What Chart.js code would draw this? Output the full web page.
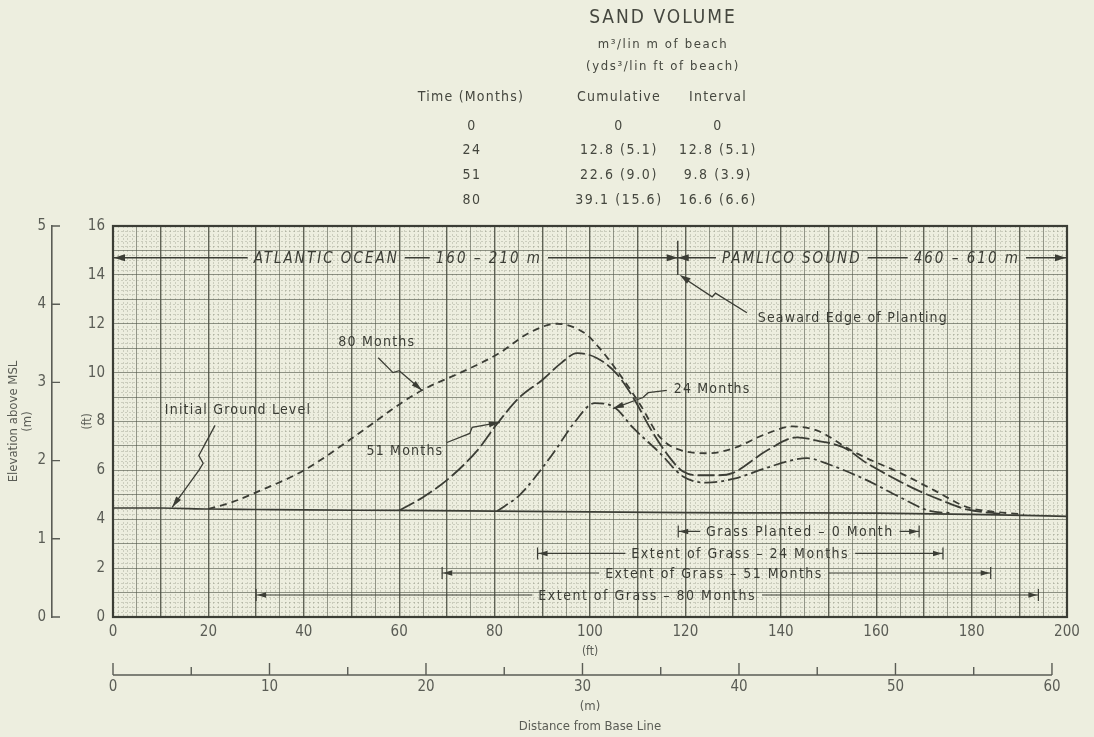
<!DOCTYPE html>
<html>
<head>
<meta charset="utf-8">
<title>Sand volume - dune profiles</title>
<script src="https://cdn.jsdelivr.net/npm/chart.js@4.4.1/dist/chart.umd.min.js"></script>
<style>
  html, body { margin: 0; padding: 0; background: #edeedf; }
  #wrap { position: relative; width: 1094px; height: 737px; }
</style>
</head>
<body>
<div id="wrap"><canvas id="profile"></canvas></div>
<script>
// distance from base line (ft) and elevation above MSL (ft)
const groundX = [0, 10, 20, 30, 40, 60, 80, 100, 120, 140, 160, 180, 200];
const groundY = [4.46, 4.46, 4.42, 4.4, 4.38, 4.36, 4.33, 4.3, 4.27, 4.26, 4.25, 4.2, 4.12];

const m24X = [80.5, 85.3, 90, 93, 96.5, 101, 105, 109, 114.7, 119.5, 124.5, 130, 137, 142, 145.5, 150, 158, 165, 171, 176];
const m24Y = [4.33, 5.0, 6.1, 6.9, 7.9, 8.75, 8.6, 7.75, 6.7, 5.75, 5.5, 5.65, 6.1, 6.4, 6.5, 6.25, 5.6, 4.9, 4.35, 4.25];

const m51X = [60, 65, 70.6, 76.3, 80.5, 85.3, 90, 94, 97.3, 101.4, 105.6, 109, 113, 116.8, 119.5, 123, 127, 130, 137, 143.4, 148, 153, 158, 163, 168.5, 174, 179, 186];
const m51Y = [4.36, 4.9, 5.7, 6.8, 7.9, 9.0, 9.7, 10.4, 10.8, 10.6, 9.95, 9.0, 7.6, 6.5, 5.95, 5.8, 5.8, 5.9, 6.8, 7.35, 7.2, 6.95, 6.3, 5.75, 5.2, 4.75, 4.4, 4.22];

const m80X = [20, 25, 30, 40, 50, 55, 60, 65, 74, 81, 87, 93, 99, 102, 105.6, 110.5, 114.7, 119.5, 125, 130, 137, 142.5, 148, 154, 158, 165, 172, 179, 185, 191];
const m80Y = [4.42, 4.7, 5.1, 6.0, 7.3, 8.0, 8.7, 9.3, 10.1, 10.8, 11.6, 12.0, 11.6, 11.0, 10.1, 8.7, 7.35, 6.8, 6.7, 6.9, 7.5, 7.8, 7.6, 6.9, 6.5, 5.9, 5.2, 4.5, 4.3, 4.2];

// extent of grass (ft from base line)
const grassLabels = ['Grass Planted \u2013 0 Month', 'Extent of Grass \u2013 24 Months', 'Extent of Grass \u2013 51 Months', 'Extent of Grass \u2013 80 Months'];
const grassFrom = [118.5, 89, 69, 30];
const grassTo = [169, 174, 184, 194];
const seawardEdge = 118.4;

// sand volume table
const tableMonths = ['0', '24', '51', '80'];
const tableCumulative = ['0', '12.8 (5.1)', '22.6 (9.0)', '39.1 (15.6)'];
const tableInterval = ['0', '12.8 (5.1)', '9.8 (3.9)', '16.6 (6.6)'];

const FT_PER_M = 3.2808;
const FONT = '"DejaVu Sans Condensed", "Liberation Sans Narrow", "DejaVu Sans", sans-serif';
const PAPER = '#edeedf';
const INK = '#3b3d35';
const GREY = '#5a5c55';

function pts(xs, ys) {
  return xs.map((v, i) => ({ x: v, y: ys[i] }));
}

function arrowHead(ctx, fx, fy, tx, ty, len, half) {
  const a = Math.atan2(ty - fy, tx - fx);
  ctx.beginPath();
  ctx.moveTo(tx, ty);
  ctx.lineTo(tx - len * Math.cos(a) + half * Math.sin(a), ty - len * Math.sin(a) - half * Math.cos(a));
  ctx.lineTo(tx - len * Math.cos(a) - half * Math.sin(a), ty - len * Math.sin(a) + half * Math.cos(a));
  ctx.closePath();
  ctx.fill();
}

// a horizontal bar broken by its labels
function labeledBar(ctx, yPx, x1, x2, labels) {
  let cur = x1;
  ctx.beginPath();
  labels.forEach(l => {
    const w = ctx.measureText(l.s).width;
    ctx.moveTo(cur, yPx);
    ctx.lineTo(l.cx - w / 2 - 6, yPx);
    cur = l.cx + w / 2 + 6;
  });
  ctx.moveTo(cur, yPx);
  ctx.lineTo(x2, yPx);
  ctx.stroke();
  labels.forEach(l => ctx.fillText(l.s, l.cx, yPx + 1));
}

const paper = {
  id: 'paper',
  beforeDraw(chart) {
    const { ctx, chartArea: a, scales: { x, y } } = chart;
    ctx.save();
    ctx.fillStyle = PAPER;
    ctx.fillRect(0, 0, chart.width, chart.height);
    ctx.strokeStyle = 'rgba(95,100,85,0.24)';
    ctx.lineWidth = 1;
    ctx.setLineDash([2, 2]);
    ctx.beginPath();
    for (let v = 1; v < 200; v++) {
      if (v % 5 === 0) continue;
      const p = Math.round(x.getPixelForValue(v)) + 0.5;
      ctx.moveTo(p, a.top);
      ctx.lineTo(p, a.bottom);
    }
    for (let i = 1; i < 80; i++) {
      if (i % 5 === 0) continue;
      const p = Math.round(y.getPixelForValue(i * 0.2)) + 0.5;
      ctx.moveTo(a.left, p);
      ctx.lineTo(a.right, p);
    }
    ctx.stroke();
    ctx.restore();
  }
};

const notes = {
  id: 'notes',
  afterDraw(chart) {
    const { ctx, chartArea: a, scales: { x, y, xm, ym } } = chart;
    const px = v => x.getPixelForValue(v);
    const py = v => y.getPixelForValue(v);
    ctx.save();

    // plot frame
    ctx.strokeStyle = INK;
    ctx.lineWidth = 2.2;
    ctx.strokeRect(a.left, a.top, a.right - a.left, a.bottom - a.top);

    // metre elevation axis: ticks point inwards
    ctx.lineWidth = 1.4;
    ctx.strokeStyle = GREY;
    ctx.beginPath();
    for (let v = 0; v <= 5; v++) {
      const p = ym.getPixelForValue(v);
      ctx.moveTo(ym.right, p);
      ctx.lineTo(ym.right + 8, p);
    }
    ctx.stroke();

    // metre distance axis
    const lineY = xm.top + 13;
    ctx.beginPath();
    ctx.moveTo(xm.getPixelForValue(0), lineY);
    ctx.lineTo(xm.getPixelForValue(60), lineY);
    for (let v = 0; v <= 60; v += 5) {
      const p = xm.getPixelForValue(v);
      ctx.moveTo(p, lineY);
      ctx.lineTo(p, lineY - (v % 10 === 0 ? 12 : 8));
    }
    ctx.stroke();

    // banner: Atlantic Ocean / Pamlico Sound
    ctx.fillStyle = INK;
    ctx.strokeStyle = INK;
    ctx.lineWidth = 1.5;
    ctx.font = `italic 15px ${FONT}`;
    ctx.letterSpacing = '2px';
    ctx.textAlign = 'center';
    ctx.textBaseline = 'middle';
    const by = py(14.7);
    labeledBar(ctx, by, px(0), px(seawardEdge), [{ s: 'ATLANTIC OCEAN', cx: px(44.7) }, { s: '160 \u2013 210 m', cx: px(78.8) }]);
    labeledBar(ctx, by, px(seawardEdge), px(200), [{ s: 'PAMLICO SOUND', cx: px(142.3) }, { s: '460 \u2013 610 m', cx: px(179) }]);
    arrowHead(ctx, px(6), by, px(0) + 1, by, 11, 3.5);
    arrowHead(ctx, px(110), by, px(seawardEdge), by, 11, 3.5);
    arrowHead(ctx, px(126), by, px(seawardEdge), by, 11, 3.5);
    arrowHead(ctx, px(190), by, px(200) - 1, by, 11, 3.5);

    // seaward edge of planting marker
    ctx.lineWidth = 1.4;
    ctx.beginPath();
    ctx.moveTo(px(seawardEdge), py(15.4));
    ctx.lineTo(px(seawardEdge), py(14.0));
    ctx.moveTo(px(119.8), py(13.85));
    ctx.lineTo(px(125.6), py(13.1));
    ctx.lineTo(px(126.3), py(13.25));
    ctx.lineTo(px(132.9), py(12.45));
    ctx.stroke();
    arrowHead(ctx, px(123), py(13.45), px(seawardEdge + 0.4), py(14.0), 11, 3.2);

    // grass extents
    ctx.font = `14px ${FONT}`;
    ctx.letterSpacing = '1.5px';
    const levels = [3.5, 2.6, 1.8, 0.9];
    const labelCx = [144, 131.5, 126, 112];
    ctx.lineWidth = 1.2;
    grassLabels.forEach((s, i) => {
      const yy = py(levels[i]);
      const x1 = px(grassFrom[i]), x2 = px(grassTo[i]);
      labeledBar(ctx, yy, x1, x2, [{ s, cx: px(labelCx[i]) }]);
      ctx.beginPath();
      ctx.moveTo(x1, yy - 6); ctx.lineTo(x1, yy + 6);
      ctx.moveTo(x2, yy - 6); ctx.lineTo(x2, yy + 6);
      ctx.stroke();
      arrowHead(ctx, x1 + 12, yy, x1 + 1, yy, 9, 2.8);
      arrowHead(ctx, x2 - 12, yy, x2 - 1, yy, 9, 2.8);
    });

    // curve labels with leaders
    ctx.letterSpacing = '1.2px';
    ctx.font = `14px ${FONT}`;
    const labels = [
      { s: 'Initial Ground Level', at: [26.2, 8.45], path: [[21.4, 7.84], [18.0, 6.61], [18.9, 6.29], [18.0, 6.0], [12.4, 4.49]] },
      { s: '80 Months', at: [55.3, 11.22], path: [[55.6, 10.61], [58.7, 10.0], [60.0, 10.08], [64.8, 9.27]] },
      { s: '51 Months', at: [61.2, 6.78], path: [[70.0, 7.14], [74.8, 7.51], [75.3, 7.76], [81.1, 7.96]] },
      { s: '24 Months', at: [125.6, 9.31], path: [[116.1, 9.27], [112.2, 9.18], [111.1, 8.98], [104.8, 8.53]] },
      { s: 'Seaward Edge of Planting', at: [155.1, 12.24], path: null }
    ];
    ctx.lineWidth = 1.3;
    labels.forEach(l => {
      ctx.fillText(l.s, px(l.at[0]), py(l.at[1]));
      if (!l.path) return;
      ctx.beginPath();
      l.path.forEach((p, i) => (i ? ctx.lineTo(px(p[0]), py(p[1])) : ctx.moveTo(px(p[0]), py(p[1]))));
      ctx.stroke();
      const n = l.path.length;
      const f = l.path[n - 2], t = l.path[n - 1];
      arrowHead(ctx, px(f[0]), py(f[1]), px(t[0]), py(t[1]), 11, 3);
    });

    // sand volume table
    ctx.fillStyle = '#45473f';
    ctx.letterSpacing = '2px';
    ctx.font = `500 19px ${FONT}`;
    ctx.fillText('SAND VOLUME', 663, 18);
    ctx.letterSpacing = '1.6px';
    ctx.font = `13px ${FONT}`;
    ctx.fillText('m\u00b3/lin m of beach', 663, 45);
    ctx.fillText('(yds\u00b3/lin ft of beach)', 663, 67);
    ctx.letterSpacing = '1.2px';
    ctx.font = `14px ${FONT}`;
    ctx.fillText('Time (Months)', 471, 97);
    ctx.fillText('Cumulative', 619, 97);
    ctx.fillText('Interval', 718, 97);
    ctx.letterSpacing = '1.6px';
    tableMonths.forEach((m, i) => {
      const ty = 126 + i * 24.7;
      ctx.fillText(m, 472, ty);
      ctx.fillText(tableCumulative[i], 619, ty);
      ctx.fillText(tableInterval[i], 718, ty);
    });
    ctx.restore();
  }
};

const lineStyle = {
  showLine: true,
  pointRadius: 0,
  borderColor: INK,
  borderWidth: 1.8,
  fill: false,
  cubicInterpolationMode: 'monotone'
};

new Chart(document.getElementById('profile'), {
  type: 'scatter',
  data: {
    datasets: [
      { ...lineStyle, label: 'Initial Ground Level', data: pts(groundX, groundY), borderWidth: 1.7 },
      { ...lineStyle, label: '24 Months', data: pts(m24X, m24Y), borderDash: [13, 4, 3, 4] },
      { ...lineStyle, label: '51 Months', data: pts(m51X, m51Y), borderDash: [17, 4] },
      { ...lineStyle, label: '80 Months', data: pts(m80X, m80Y), borderDash: [7, 5] }
    ]
  },
  options: {
    responsive: true,
    maintainAspectRatio: false,
    animation: false,
    layout: { padding: { top: 226, right: 27, left: 0, bottom: 0 } },
    plugins: { legend: { display: false }, tooltip: { enabled: false } },
    scales: {
      x: {
        type: 'linear', position: 'bottom', weight: 0, min: 0, max: 200,
        afterFit: s => { s.height = 45; },
        border: { display: false },
        grid: {
          drawTicks: false,
          color: c => (c.tick && c.tick.value % 10 === 0 ? 'rgba(70,74,62,0.85)' : 'rgba(85,90,76,0.6)'),
          lineWidth: c => (c.tick && c.tick.value % 10 === 0 ? 1.4 : 1)
        },
        ticks: {
          stepSize: 5, autoSkip: false, maxRotation: 0, padding: 6, color: GREY,
          font: { family: FONT, size: 15 },
          callback: v => (v % 20 === 0 ? String(v) : '')
        },
        title: { display: true, text: '(ft)', color: GREY, font: { family: FONT, size: 12, lineHeight: 1.2 }, padding: { top: 0, bottom: 3 } }
      },
      xm: {
        type: 'linear', position: 'bottom', weight: 1, min: 0, max: 200 / FT_PER_M,
        afterFit: s => { s.height = 75; },
        border: { display: false },
        grid: { display: false, drawTicks: false },
        ticks: {
          stepSize: 10, includeBounds: false, autoSkip: false, maxRotation: 0, padding: 16, color: GREY,
          font: { family: FONT, size: 15 },
          callback: v => (v % 10 === 0 ? String(v) : '')
        },
        title: { display: true, text: ['(m)', 'Distance from Base Line'], color: GREY, font: { family: FONT, size: 13, lineHeight: 1.5 }, padding: { top: 0, bottom: 1 } }
      },
      y: {
        type: 'linear', position: 'left', weight: 0, min: 0, max: 16,
        afterFit: s => { s.width = 61; },
        border: { display: false },
        grid: { drawTicks: false, color: 'rgba(80,85,72,0.62)', lineWidth: 1 },
        ticks: {
          stepSize: 1, autoSkip: false, padding: 8, color: GREY,
          font: { family: FONT, size: 15 },
          callback: v => (v % 2 === 0 ? String(v) : '')
        },
        title: { display: true, text: '(ft)', color: GREY, font: { family: FONT, size: 12, lineHeight: 1.2 }, padding: { top: 29, bottom: 0 } }
      },
      ym: {
        type: 'linear', position: 'left', weight: 1, min: 0, max: 5,
        afterFit: s => { s.width = 52; },
        border: { display: true, color: GREY, width: 1.6 },
        grid: { display: false, drawTicks: false },
        ticks: { stepSize: 1, padding: 6, color: GREY, font: { family: FONT, size: 15 } },
        title: { display: true, text: ['Elevation above MSL', '(m)'], color: GREY, font: { family: FONT, size: 13, lineHeight: 1.1 }, padding: { top: 6, bottom: 0 } }
      }
    }
  },
  plugins: [paper, notes]
});
</script>
</body>
</html>
